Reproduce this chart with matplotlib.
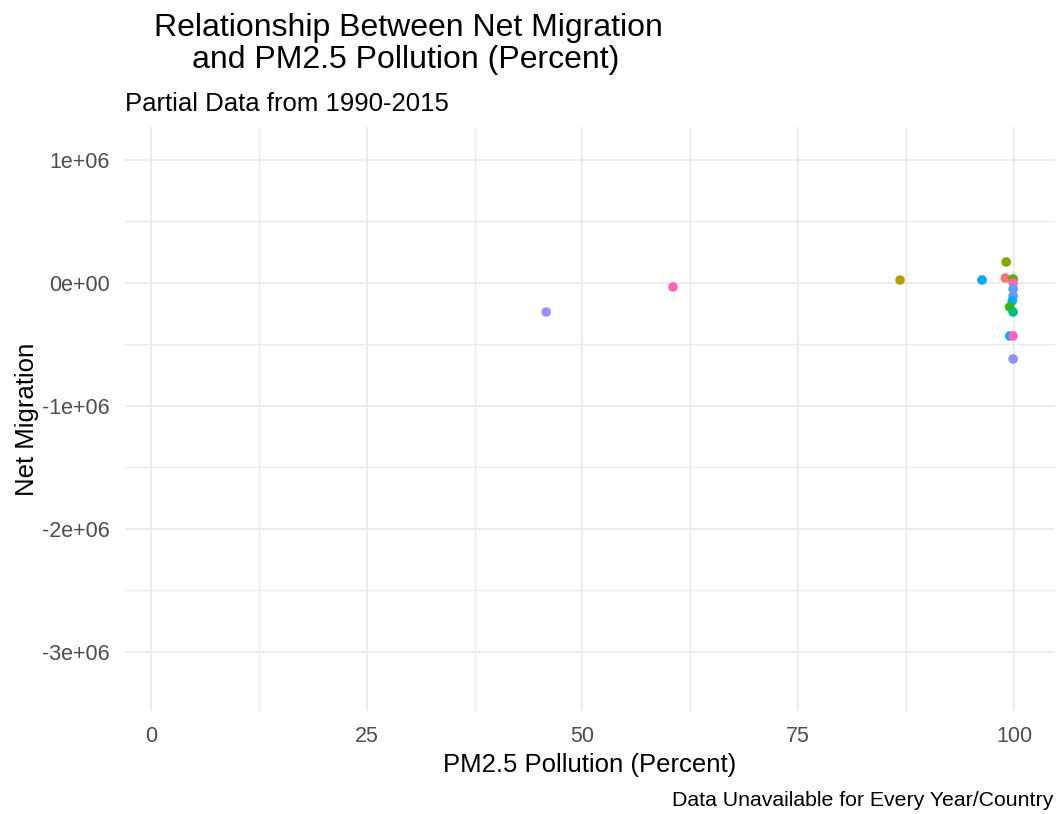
import numpy as np
import matplotlib.pyplot as plt
from matplotlib.ticker import FixedLocator

plt.rcParams['font.family'] = ['Liberation Sans', 'DejaVu Sans']

# PM2.5 pollution (percent) vs net migration, one point per country/year
pm25 = [45.8, 60.5, 86.8, 96.3, 99.1, 99.0, 99.9, 99.9, 99.9, 99.9,
        99.8, 99.5, 99.9, 99.5, 99.9, 99.9]
net_mig = [-236000, -32000, 24000, 24400, 170700, 40600, 32500, 0,
           -48800, -105700, -146000, -195000, -236000, -431000, -431000, -618000]
colors = ['#A58AFF', '#FF63B6', '#B79F00', '#00A9FF', '#7CAE00', '#F8766D',
          '#53B400', '#FF65AE', '#619CFF', '#619CFF', '#00B0F6', '#39B600',
          '#00BF7D', '#00B8E7', '#FF61C3', '#8F91FF']

xticks = [0, 25, 50, 75, 100]
yticks = [-3e6, -2e6, -1e6, 0, 1e6]
ytick_labels = ['-3e+06', '-2e+06', '-1e+06', '0e+00', '1e+06']

W, H = 1057, 814
fig = plt.figure(figsize=(W / 100, H / 100), dpi=100)
ax = fig.add_axes([125 / W, 1 - 711 / H, 930 / W, 584 / H])

ax.scatter(pm25, net_mig, c=colors, s=48, linewidths=0, zorder=3)

ax.set_xlim(-3.0, 104.75)
ax.set_ylim(-3.48e6, 1.268e6)
ax.set_xticks(xticks)
ax.set_yticks(yticks)
ax.set_yticklabels(ytick_labels)
ax.xaxis.set_minor_locator(FixedLocator([12.5, 37.5, 62.5, 87.5]))
ax.yaxis.set_minor_locator(FixedLocator([-2.5e6, -1.5e6, -0.5e6, 0.5e6]))

ax.grid(True, which='major', color='#EBEBEB', lw=1.3)
ax.grid(True, which='minor', color='#EBEBEB', lw=1.0)
ax.set_axisbelow(True)
for s in ax.spines.values():
    s.set_visible(False)
ax.tick_params(which='both', length=0)
ax.tick_params(axis='both', labelsize=15.5, labelcolor='#4D4D4D')
ax.tick_params(axis='x', pad=11)
ax.tick_params(axis='y', pad=11)

ax.set_xlabel('PM2.5 Pollution (Percent)', fontsize=18.5, labelpad=4)
ax.set_ylabel('Net Migration', fontsize=18.5, labelpad=2)

fig.text(408 / W, 1 - 36 / H, 'Relationship Between Net Migration',
         fontsize=23, ha='center', va='baseline')
fig.text(406 / W, 1 - 68 / H, 'and PM2.5 Pollution (Percent)',
         fontsize=23, ha='center', va='baseline')
fig.text(125 / W, 1 - 111 / H, 'Partial Data from 1990-2015',
         fontsize=18.5, ha='left', va='baseline')
fig.text(1053 / W, 1 - 806 / H, 'Data Unavailable for Every Year/Country',
         fontsize=15.3, ha='right', va='baseline')

fig.savefig('out.png', dpi=100)
